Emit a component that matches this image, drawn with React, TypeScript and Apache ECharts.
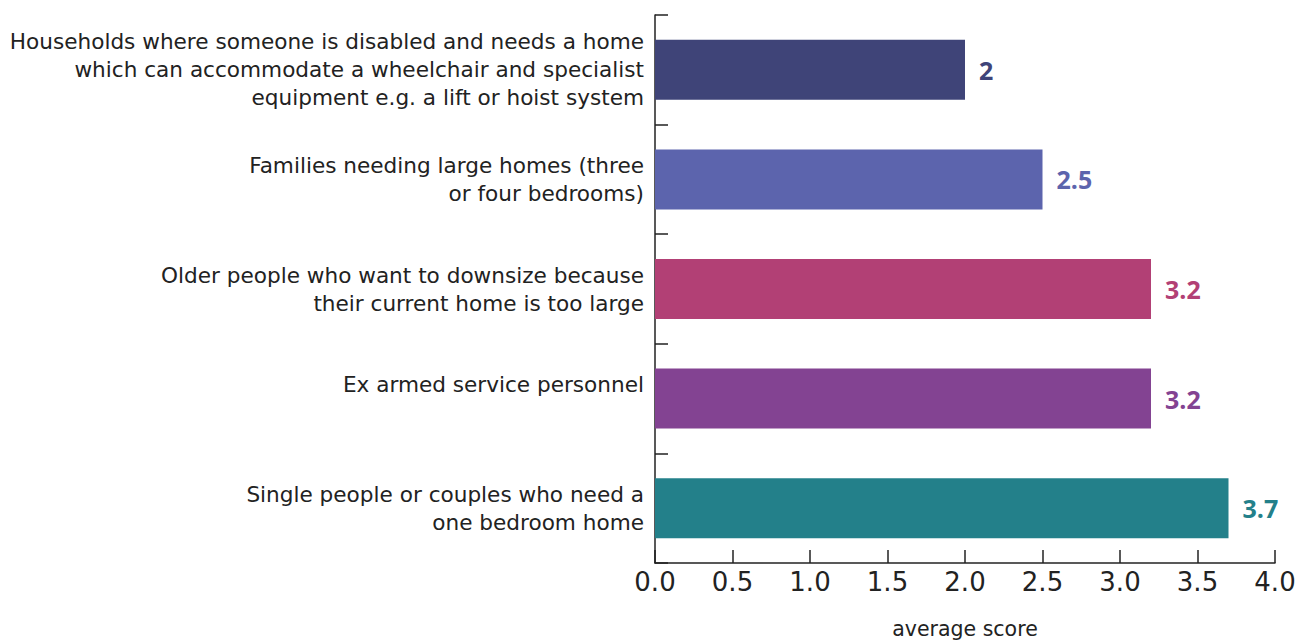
import React, { useEffect, useRef } from "react";
import * as echarts from "echarts";

const categories: string[] = [
  "Households where someone is disabled and needs a home\nwhich can accommodate a wheelchair and specialist\nequipment e.g. a lift or hoist system",
  "Families needing large homes (three\nor four bedrooms)",
  "Older people who want to downsize because\ntheir current home is too large",
  "Ex armed service personnel\n",
  "Single people or couples who need a\none bedroom home",
];
const values: number[] = [2, 2.5, 3.2, 3.2, 3.7];
const valueLabels: string[] = ["2", "2.5", "3.2", "3.2", "3.7"];
const colors: string[] = ["#3F4478", "#5C64AD", "#B24075", "#834392", "#23808A"];
const xAxisName = "average score";

export default function App() {
  const ref = useRef<HTMLDivElement>(null);
  useEffect(() => {
    if (!ref.current) return;
    const chart = echarts.init(ref.current, null, { renderer: "svg" });
    const font = "'DejaVu Sans', 'Open Sans', sans-serif";
    const boldFont = "'Open Sans', 'Noto Sans', sans-serif";
    chart.setOption({
      animation: false,
      textStyle: { fontFamily: font },
      grid: {
        left: 655,
        right: 31,
        top: 15,
        bottom: 79,
        containLabel: false,
        outerBoundsMode: "none",
      },
      xAxis: {
        type: "value",
        min: 0,
        max: 4,
        interval: 0.5,
        name: xAxisName,
        nameLocation: "middle",
        nameGap: 55,
        nameTextStyle: { fontSize: 20.5, color: "#222", fontFamily: font },
        axisLine: { show: true, lineStyle: { color: "#222", width: 1.5 } },
        axisTick: { show: true, inside: true, length: 13, lineStyle: { color: "#222", width: 1.5 } },
        axisLabel: {
          fontSize: 26,
          color: "#222",
          margin: 6,
          fontFamily: font,
          formatter: (v: number) => v.toFixed(1),
        },
        splitLine: { show: false },
      },
      yAxis: {
        type: "category",
        inverse: true,
        data: categories,
        axisLine: { show: true, lineStyle: { color: "#222", width: 1.5 } },
        axisTick: { show: true, inside: true, length: 13, lineStyle: { color: "#222", width: 1.5 } },
        axisLabel: {
          fontSize: 21.6,
          lineHeight: 28,
          color: "#222",
          margin: 11,
          align: "right",
          fontFamily: font,
        },
      },
      series: [
        {
          type: "bar",
          barWidth: 60,
          data: values.map((v, i) => ({
            value: v,
            itemStyle: { color: colors[i] },
            label: {
              show: true,
              position: "right",
              distance: 14,
              formatter: valueLabels[i],
              color: colors[i],
              fontSize: 25,
              fontWeight: "bold",
              fontFamily: boldFont,
            },
          })),
        },
      ],
    });
    return () => chart.dispose();
  }, []);
  return <div ref={ref} style={{ width: 1306, height: 642, position: "absolute", left: 0, top: 0 }} />;
}
